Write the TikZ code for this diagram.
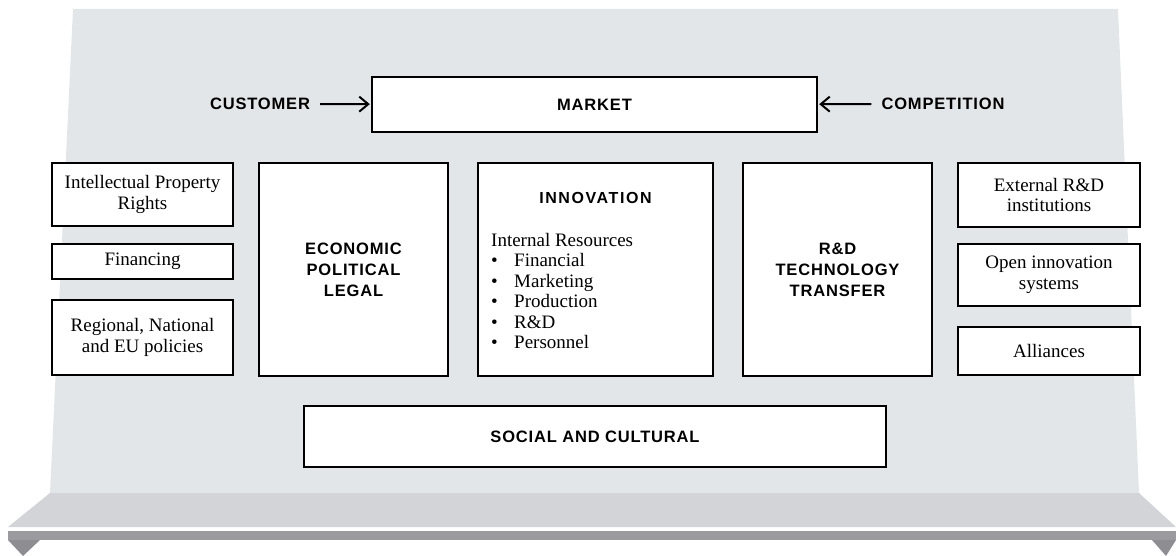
\documentclass[tikz,border=0pt]{standalone}
\usepackage{fontspec}
\setmainfont{Liberation Serif}
\newfontfamily\capsfont[LetterSpace=5]{Liberation Sans}
\newfontfamily\widecapsfont[LetterSpace=10]{Liberation Sans}
\usetikzlibrary{arrows.meta}

\definecolor{wallgray}{HTML}{E3E6E9}
\definecolor{floorgray}{HTML}{D2D4D7}
\definecolor{railgray}{HTML}{9B9B9F}
\definecolor{tipgray}{HTML}{8E8E92}

\tikzset{
  box/.style={draw=black, line width=2.4pt, fill=white, inner sep=0pt, align=center},
  heading/.style={font=\capsfont\bfseries\fontsize{16.5}{21}\selectfont},
  plain/.style={font=\fontsize{19}{20.5}\selectfont},
  push/.style={-{Straight Barb[length=9pt,width=15pt]}, line width=2pt},
}

\begin{document}
\begin{tikzpicture}[x=1pt,y=-1pt]
  \useasboundingbox (0,0) rectangle (1176,556);

  % wall, floor and rail
  \fill[wallgray] (73,9) -- (1118,9) -- (1139,493) -- (50,493) -- cycle;
  \fill[floorgray] (50,493) -- (1139,493) -- (1176,527) -- (8,527) -- cycle;
  \fill[railgray] (8,531) rectangle (1176,540);
  \fill[tipgray] (8,540) -- (40,540) -- (23,556) -- cycle;
  \fill[tipgray] (1152,540) -- (1176,540) -- (1166,556) -- cycle;

  % top row
  \node[box, heading, minimum width=445pt, minimum height=55pt] (market) at (594.5,104.5) {MARKET};
  \node[heading, inner sep=0pt] (customer) at (260,104) {CUSTOMER};
  \node[heading, inner sep=0pt] (competition) at (943,104) {COMPETITION};
  \draw[push, shorten <=10pt, shorten >=1pt] (customer) -- (market);
  \draw[push, shorten <=10pt, shorten >=1pt] (competition) -- (market);

  % left column
  \node[box, plain, minimum width=181pt, minimum height=63pt] (ipr) at (142.5,194.5) {Intellectual Property\\Rights};
  \node[box, plain, minimum width=181pt, minimum height=35pt] (financing) at (142.5,261.5) {Financing};
  \node[box, plain, minimum width=181pt, minimum height=75pt] (policies) at (142.5,337.5) {Regional, National\\and EU policies};

  % middle row
  \node[box, heading, minimum width=189pt, minimum height=213pt] (econ) at (353.5,269.5) {ECONOMIC\\POLITICAL\\LEGAL};
  \node[box, minimum width=235pt, minimum height=213pt] (innovation) at (595.5,269.5) {};
  \node[heading, font=\widecapsfont\bfseries\fontsize{16}{21}\selectfont, inner sep=0pt] (innotitle) at (595.5,198) {INNOVATION};
  \node[plain, align=left, anchor=north west, inner sep=0pt] (resources) at (491,233)
    {Internal Resources\\
     \makebox[23pt][l]{\textbullet}Financial\\
     \makebox[23pt][l]{\textbullet}Marketing\\
     \makebox[23pt][l]{\textbullet}Production\\
     \makebox[23pt][l]{\textbullet}R\&D\\
     \makebox[23pt][l]{\textbullet}Personnel};
  \node[box, heading, minimum width=189pt, minimum height=213pt] (transfer) at (837.5,269.5) {R\&D\\TECHNOLOGY\\TRANSFER};

  % right column
  \node[box, plain, minimum width=182pt, minimum height=64pt] (external) at (1049,195) {External R\&D\\institutions};
  \node[box, plain, minimum width=182pt, minimum height=62pt] (openinno) at (1049,275) {Open innovation\\systems};
  \node[box, plain, minimum width=182pt, minimum height=48pt] (alliances) at (1049,351) {Alliances};

  % bottom
  \node[box, heading, minimum width=582pt, minimum height=61pt] (social) at (595,436.5) {SOCIAL AND CULTURAL};
\end{tikzpicture}
\end{document}
